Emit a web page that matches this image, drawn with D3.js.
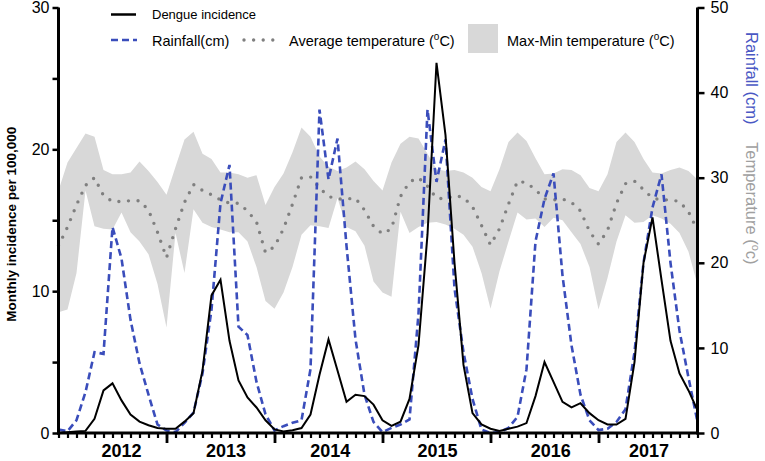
<!DOCTYPE html>
<html><head><meta charset="utf-8">
<script src="https://cdn.jsdelivr.net/npm/d3@7"></script>
<style>
html,body{margin:0;padding:0;background:#fff;}
svg{display:block;font-family:"Liberation Sans",Arial,sans-serif;}
</style></head>
<body>
<svg id="chart" width="765" height="461"></svg>
<script>
// ---- data (monthly, 72 months) ----
const dengue = [0,0.05,0.1,0.15,1.0,3.0,3.5,2.3,1.3,0.8,0.55,0.35,
  0.3,0.3,0.8,1.4,4.4,9.7,10.8,6.5,3.7,2.5,1.8,0.9,
  0.25,0.1,0.2,0.35,1.3,4.1,6.6,4.4,2.2,2.7,2.6,2.0,
  0.9,0.5,0.8,2.4,6.2,14.0,26.1,21.0,12.0,4.8,1.4,0.6,
  0.3,0.15,0.3,0.45,0.7,2.6,5.0,3.6,2.2,1.8,2.1,1.4,
  0.9,0.6,0.6,1.0,5.0,12.0,15.2,10.8,6.5,4.2,3.0,1.6];
const rainfall = [0.4,0.2,1.5,4.8,9.5,9.3,24.2,20.5,13.3,8.2,4.5,1.0,
  0.3,0.1,1.2,2.4,7.0,14.5,27.0,31.5,12.5,11.5,6.0,2.2,
  0.3,0.8,1.2,1.5,7.5,38.0,29.8,34.6,22.0,11.0,4.5,1.3,
  0.1,0.6,1.0,1.6,14.0,38.0,29.5,34.5,17.0,9.5,4.0,0.4,
  0.0,0.1,0.6,1.9,7.5,22.5,27.5,30.5,18.5,10.3,4.5,1.5,
  0.35,0.5,1.3,2.8,9.5,20.0,26.5,30.4,20.0,12.0,6.5,1.3];
const tempAvg = [22.0,24.2,26.8,29.1,30.0,27.9,27.2,27.2,27.3,27.3,26.2,23.6,
  20.6,24.0,27.1,29.2,28.5,28.0,27.4,27.0,27.0,26.1,24.8,21.2,
  21.9,24.0,26.9,30.0,30.1,28.8,27.8,27.5,27.5,27.6,26.2,24.3,
  23.4,24.0,27.8,29.5,30.0,29.0,27.6,27.5,27.9,27.7,26.6,24.4,
  22.1,24.0,26.9,29.6,29.4,28.6,27.5,27.4,27.5,27.1,26.1,23.7,
  22.2,23.8,27.0,29.3,29.6,28.6,27.6,27.4,27.4,27.2,26.0,23.8];
const tempMax = [28.5,31.8,33.5,35.2,34.8,30.9,30.4,30.4,30.6,31.9,30.8,29.5,
  28.0,31.3,34.5,35.4,32.8,32.2,30.6,30.6,30.4,30.0,30.3,26.8,
  28.9,30.5,33.0,35.9,34.8,32.5,31.3,30.8,31.2,31.9,31.0,29.6,
  28.5,31.8,34.0,34.8,34.6,32.8,31.0,30.8,30.9,30.6,30.0,28.9,
  28.4,31.0,34.2,35.3,34.3,32.3,30.4,30.5,31.0,30.9,30.3,28.8,
  28.4,30.4,34.2,35.3,34.2,32.2,30.6,30.5,30.9,31.2,30.8,29.8];
const tempMin = [14.2,14.5,18.8,28.5,24.3,24.0,23.9,25.9,23.6,22.5,21.0,17.5,
  12.4,23.5,18.8,26.3,24.7,24.2,23.9,23.6,23.6,22.5,19.5,15.5,
  14.6,16.5,19.5,23.3,24.4,24.3,24.1,27.6,24.2,23.7,22.0,17.8,
  16.5,16.0,26.0,23.5,24.2,24.7,24.8,24.5,24.0,23.3,21.9,18.8,
  14.6,19.0,22.5,25.9,25.1,25.2,24.2,25.3,25.0,23.6,22.2,19.5,
  14.5,18.2,22.5,25.6,24.7,24.8,25.6,25.2,24.6,23.5,21.3,17.4];
const yearLabels = ["2012","2013","2014","2015","2016","2017"];
const yearLabelPos = [7, 18.6, 30.2, 42.1, 54.7, 65.6];   // in months
const yearTicks = [12, 24, 36, 48, 60];
const leftTicks = [0, 10, 20, 30];
const leftMinorTicks = [5, 15, 25];
const rightTicks = [0, 10, 20, 30, 40, 50];

// ---- layout ----
const svg = d3.select("#chart");
const months = d3.range(dengue.length);
const x = d3.scaleLinear().domain([0, 71]).range([58.5, 697.5]);
const yL = d3.scaleLinear().domain([0, 30]).range([433, 7.5]);
const yR = d3.scaleLinear().domain([0, 50]).range([433, 7.5]);

const BLUE = "#3a4dbb";
const GREY_BAND = "#d8d8d8";
const DOT = "#7f7f7f";

// band
svg.append("path")
  .datum(months)
  .attr("fill", GREY_BAND)
  .attr("d", d3.area().x(i => x(i)).y0(i => yR(tempMin[i])).y1(i => yR(tempMax[i])));

// average temperature (dotted)
svg.append("path")
  .datum(months)
  .attr("fill", "none").attr("stroke", DOT)
  .attr("stroke-width", 3.4).attr("stroke-linecap", "round")
  .attr("stroke-dasharray", "0,9.6")
  .attr("d", d3.line().x(i => x(i)).y(i => yR(tempAvg[i])));

// rainfall (dashed)
svg.append("path")
  .datum(months)
  .attr("fill", "none").attr("stroke", BLUE)
  .attr("stroke-width", 2.6).attr("stroke-dasharray", "7,4")
  .attr("d", d3.line().x(i => x(i)).y(i => yR(rainfall[i])));

// dengue (solid)
svg.append("path")
  .datum(months)
  .attr("fill", "none").attr("stroke", "#000")
  .attr("stroke-width", 2).attr("stroke-linejoin", "miter")
  .attr("d", d3.line().x(i => x(i)).y(i => yL(dengue[i])));

// ---- axes ----
function styleAxis(g, fs) {
  g.select(".domain").attr("stroke", "#000").attr("stroke-width", 3);
  g.selectAll(".tick line").attr("stroke", "#000").attr("stroke-width", 2.5);
  g.selectAll(".tick text").attr("fill", "#000").attr("font-size", fs)
    .attr("font-family", "Liberation Sans, Arial, sans-serif");
}
// left
const gL = svg.append("g").attr("transform", `translate(${x(0)},0)`)
  .call(d3.axisLeft(yL).tickValues(leftTicks).tickSize(6).tickSizeOuter(0).tickPadding(3));
styleAxis(gL, "16px");
gL.select(".domain").attr("d", `M0,${yL(0)+1.5}V${yL(30)}`);
const gLm = svg.append("g").attr("transform", `translate(${x(0)},0)`)
  .call(d3.axisLeft(yL).tickValues(leftMinorTicks).tickSize(6).tickFormat(""));
gLm.select(".domain").remove();
gLm.selectAll(".tick line").attr("stroke", "#000").attr("stroke-width", 2.5);

// right
const gR = svg.append("g").attr("transform", `translate(${x(71)},0)`)
  .call(d3.axisRight(yR).tickValues(rightTicks).tickSize(7).tickSizeOuter(0).tickPadding(6));
styleAxis(gR, "16px");
gR.select(".domain").attr("d", `M0,${yR(0)+1.5}V${yR(50)}`);

// bottom: monthly minor ticks
const gB = svg.append("g").attr("transform", `translate(0,${yL(0)})`)
  .call(d3.axisBottom(x).tickValues(months).tickSize(5).tickFormat("").tickSizeOuter(0));
styleAxis(gB, "0px");
gB.select(".domain").attr("d", `M${x(0)-1.5},0H${x(71)+1.5}`);
gB.selectAll(".tick line").attr("stroke-width", 2.2);
const gBM = svg.append("g").attr("transform", `translate(0,${yL(0)})`)
  .call(d3.axisBottom(x).tickValues(yearTicks).tickSize(10).tickFormat(""));
gBM.select(".domain").remove();
gBM.selectAll(".tick line").attr("stroke", "#000").attr("stroke-width", 2.8);

svg.append("g").selectAll("text").data(yearLabels).join("text")
  .attr("x", (d, i) => x(yearLabelPos[i])).attr("y", 457)
  .attr("text-anchor", "middle").attr("font-weight", "bold")
  .attr("font-size", "18px").attr("fill", "#000").text(d => d);

// axis titles
svg.append("text")
  .attr("transform", `translate(16,${(yL(0)+yL(30))/2 + 4}) rotate(-90)`)
  .attr("text-anchor", "middle").attr("font-weight", "bold")
  .attr("font-size", "13.5px").attr("fill", "#000")
  .text("Monthly incidence per 100,000");

const rt1 = svg.append("text")
  .attr("transform", "translate(746,32) rotate(90)")
  .attr("font-size", "16.5px").attr("fill", "#4a58c4").text("Rainfall (cm)");
const rt2 = svg.append("text")
  .attr("transform", "translate(746,142) rotate(90)")
  .attr("font-size", "16.5px").attr("fill", "#a0a0a0");
rt2.append("tspan").text("Temperature (");
rt2.append("tspan").attr("font-size", "11px").attr("dy", -6).text("o");
rt2.append("tspan").attr("dy", 6).text("c)");

// ---- legend ----
const lg = svg.append("g");
lg.append("line").attr("x1", 111).attr("x2", 136).attr("y1", 14.5).attr("y2", 14.5)
  .attr("stroke", "#000").attr("stroke-width", 2.5);
lg.append("text").attr("x", 152).attr("y", 19).attr("font-size", "13px").attr("fill", "#000")
  .text("Dengue incidence");

lg.append("line").attr("x1", 111).attr("x2", 137).attr("y1", 40).attr("y2", 40)
  .attr("stroke", BLUE).attr("stroke-width", 2.6).attr("stroke-dasharray", "7,4");
lg.append("text").attr("x", 152).attr("y", 45.5).attr("font-size", "14.5px").attr("fill", "#000")
  .text("Rainfall(cm)");

lg.append("line").attr("x1", 244).attr("x2", 273).attr("y1", 40).attr("y2", 40)
  .attr("stroke", DOT).attr("stroke-width", 3.4).attr("stroke-linecap", "round")
  .attr("stroke-dasharray", "0,9.6");
const t3 = lg.append("text").attr("x", 289).attr("y", 45.5).attr("font-size", "14.5px").attr("fill", "#000");
t3.append("tspan").text("Average temperature (");
t3.append("tspan").attr("font-size", "10px").attr("dy", -6).text("o");
t3.append("tspan").attr("dy", 6).text("C)");

lg.append("rect").attr("x", 468).attr("y", 24).attr("width", 30).attr("height", 29)
  .attr("fill", GREY_BAND);
const t4 = lg.append("text").attr("x", 507).attr("y", 45.5).attr("font-size", "14.5px").attr("fill", "#000");
t4.append("tspan").text("Max-Min temperature (");
t4.append("tspan").attr("font-size", "10px").attr("dy", -6).text("o");
t4.append("tspan").attr("dy", 6).text("C)");
</script>
</body></html>
